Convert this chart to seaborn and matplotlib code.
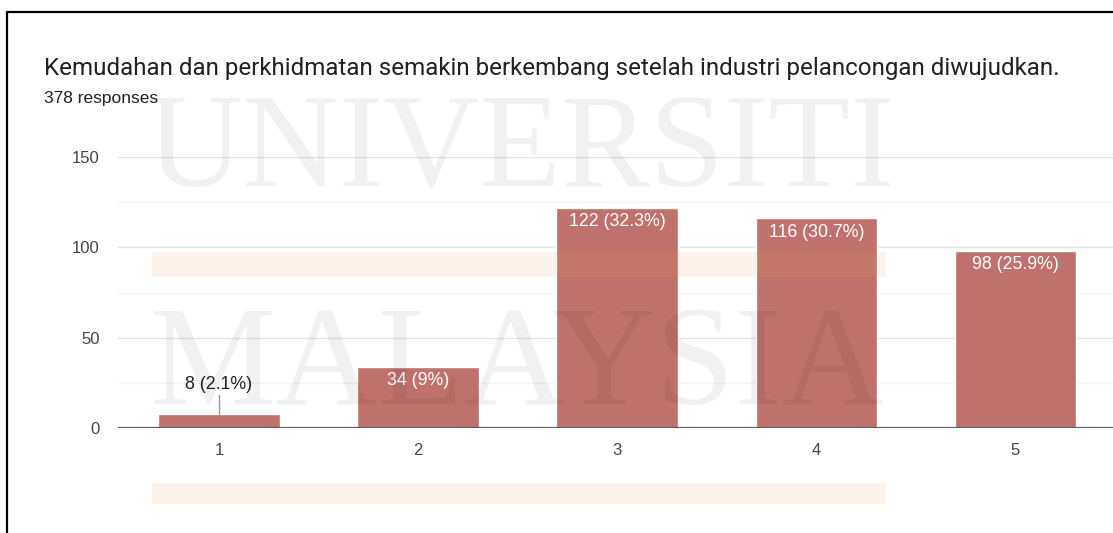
import pandas as pd
import matplotlib.pyplot as plt
import seaborn as sns
from matplotlib.patches import Rectangle
from matplotlib.lines import Line2D

TITLE = "Kemudahan dan perkhidmatan semakin berkembang setelah industri pelancongan diwujudkan."
SUBTITLE = "378 responses"
categories = ["1", "2", "3", "4", "5"]
counts = [8, 34, 122, 116, 98]
percents = ["2.1%", "9%", "32.3%", "30.7%", "25.9%"]

BAR_COLOR = "#bf716b"
TEXT_DARK = "#212121"
TEXT_GRAY = "#444444"
CHART_FONT = ["Liberation Sans", "DejaVu Sans"]


def plot():
    df = pd.DataFrame({"Skala": categories, "Jumlah": counts})

    sns.set_theme(style="white")
    plt.rcParams["font.family"] = CHART_FONT

    fig = plt.figure(figsize=(11.13, 5.33), dpi=100)
    ax = fig.add_axes([118 / 1113, 1 - 428 / 533, 1 - 118 / 1113, 271 / 533])

    # gridlines (minor lighter)
    for v in [25, 75, 125]:
        ax.axhline(v, color="#f4f4f4", lw=1, zorder=0)
    for v in [50, 100, 150]:
        ax.axhline(v, color="#e4e4e4", lw=1, zorder=0)

    sns.barplot(data=df, x="Skala", y="Jumlah", color=BAR_COLOR, saturation=1,
                width=0.61, ax=ax, zorder=2)
    ax.axhline(0, color="#5f5f5f", lw=1.6, zorder=3)

    ax.set_xlim(-0.507, 4.49)
    ax.set_ylim(0, 150)
    ax.set_yticks([0, 50, 100, 150])
    ax.set_xlabel("")
    ax.set_ylabel("")
    ax.tick_params(axis="y", length=0, pad=13, labelsize=12, labelcolor=TEXT_GRAY)
    ax.tick_params(axis="x", length=0, pad=11, labelsize=12, labelcolor=TEXT_GRAY)
    for s in ax.spines.values():
        s.set_visible(False)

    # bar labels
    for i, (c, p) in enumerate(zip(counts, percents)):
        lab = f"{c} ({p})"
        if c < 20:
            ax.text(i, c + 11.5, lab, ha="center", va="bottom", fontsize=12.8,
                    color=TEXT_DARK, zorder=4)
            ax.plot([i, i], [c, c + 10], color="#999999", lw=1, zorder=4)
        else:
            ax.text(i, c - 3, lab, ha="center", va="top", fontsize=12.8,
                    color="white", zorder=4)

    fig.text(44 / 1113, 1 - 68 / 533, TITLE, fontsize=17.4, color=TEXT_DARK,
             family=["Roboto", "DejaVu Sans"], va="center", ha="left")
    fig.text(44 / 1113, 1 - 98 / 533, SUBTITLE, fontsize=12.5, color=TEXT_DARK,
             va="center", ha="left")

    # scan watermark and bands
    for y0, h in [(252, 25), (483, 21)]:
        fig.patches.append(Rectangle((152 / 1113, 1 - (y0 + h) / 533), 734 / 1113, h / 533,
                                     transform=fig.transFigure, color="#f0a060",
                                     alpha=0.12, lw=0, zorder=5))
    for word, xc, yc, fs in [("UNIVERSITI", 520, 154, 96), ("MALAYSIA", 517, 370, 102)]:
        fig.text(xc / 1113, 1 - yc / 533, word, fontsize=fs, family="Liberation Serif",
                 color="#000000", alpha=0.055, ha="center", va="center", zorder=6)

    # border
    fig.add_artist(Line2D([7 / 1113, 7 / 1113], [0, 1 - 12 / 533], color="black",
                          lw=1.6, transform=fig.transFigure))
    fig.add_artist(Line2D([7 / 1113, 1], [1 - 12 / 533, 1 - 12 / 533], color="black",
                          lw=1.6, transform=fig.transFigure))

    fig.savefig("out.png", dpi=100)


if __name__ == "__main__":
    plot()
